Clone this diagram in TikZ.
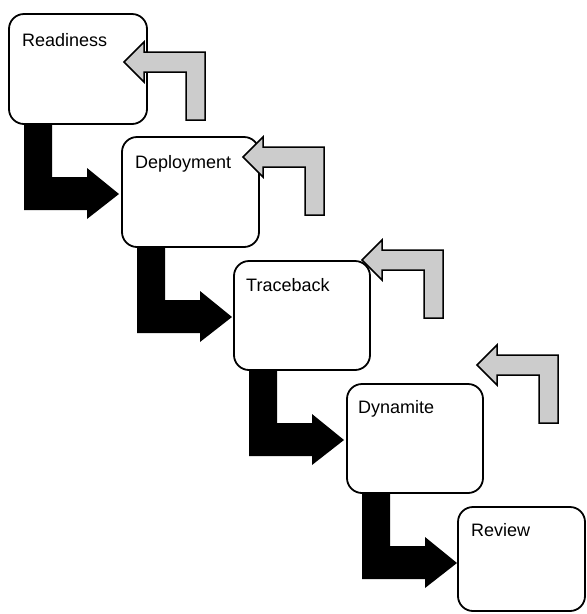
\documentclass[tikz,border=0pt]{standalone}
\usepackage{fontspec}
\setmainfont{Liberation Sans}
\usetikzlibrary{calc}
\begin{document}
\begin{tikzpicture}[x=1pt,y=-1pt,
  stagebox/.style={draw=black, line width=1.8pt, rounded corners=15pt, fill=white,
    inner sep=0pt, outer sep=0pt, anchor=north west},
  stagelbl/.style={anchor=base west, inner sep=0pt, font=\fontsize{18}{21}\selectfont},
  flowarrow/.style={fill=black},
  backarrow/.style={draw=black, line width=1.5pt, fill=black!20, line join=miter}
]
\useasboundingbox (0,0) rectangle (587,614);
% boxes
\node[stagebox, minimum width=138pt, minimum height=110pt] (b1) at (9,14) {};
\node[stagebox, minimum width=137pt, minimum height=110pt] (b2) at (122,137) {};
\node[stagebox, minimum width=136pt, minimum height=109pt] (b3) at (234,261) {};
\node[stagebox, minimum width=136pt, minimum height=109pt] (b4) at (347,384) {};
\node[stagebox, minimum width=127pt, minimum height=104pt] (b5) at (458,507) {};
% labels
\node[stagelbl] (t1) at ($(b1.north west)+(13,32)$) {Readiness};
\node[stagelbl] (t2) at ($(b2.north west)+(13,31)$) {Deployment};
\node[stagelbl] (t3) at ($(b3.north west)+(12,30)$) {Traceback};
\node[stagelbl] (t4) at ($(b4.north west)+(11,29)$) {Dynamite};
\node[stagelbl] (t5) at ($(b5.north west)+(13,29)$) {Review};
% black flow arrows
\foreach \s in {b1,b2,b3,b4}{
  \fill[flowarrow] ($(\s.south west)+(15,1)$) -- ++(28,0) -- ++(0,52) -- ++(35,0)
    -- ++(0,-9) -- ++(32,26) -- ++(-32,25) -- ++(0,-9) -- ++(-63,0) -- cycle;
}
% gray feedback arrows
\coordinate (g1) at (124,62);
\coordinate (g2) at (243,157);
\coordinate (g3) at (362,260);
\coordinate (g4) at (477,365);
\foreach \g in {g1,g2,g3,g4}{
  \filldraw[backarrow] (\g) -- ++(20,-20) -- ++(0,10) -- ++(61,0) -- ++(0,68)
    -- ++(-19,0) -- ++(0,-48) -- ++(-42,0) -- ++(0,10) -- cycle;
}
\end{tikzpicture}
\end{document}
